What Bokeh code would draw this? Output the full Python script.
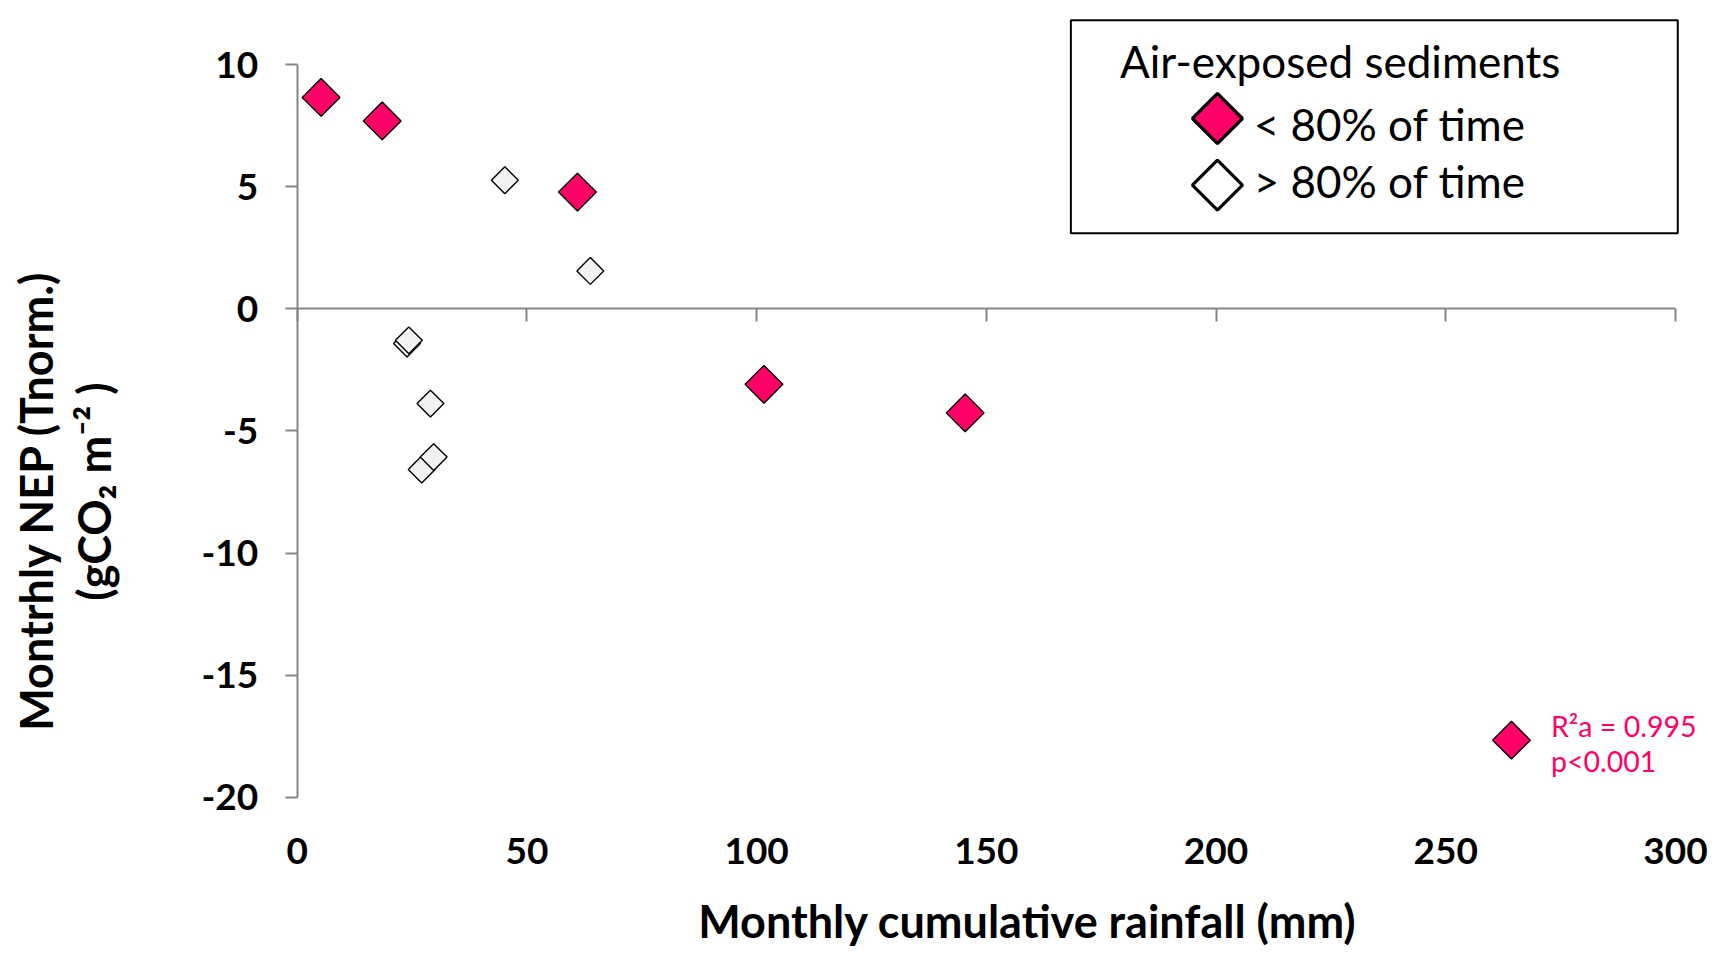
import math

from bokeh.plotting import figure
from bokeh.models import (LinearAxis, FixedTicker, Label, BoxAnnotation,
                          ColumnDataSource, CustomJSTickFormatter, Range1d)
from bokeh.embed import file_html
from bokeh.resources import INLINE

# Monthly cumulative rainfall (mm) vs. temperature-normalised monthly NEP (gCO2 m-2)
# Months with sediments air-exposed < 80% of the time
rain_low = [5.2, 18.5, 61.0, 101.6, 145.4]
nep_low = [8.65, 7.69, 4.78, -3.09, -4.26]
# Months with sediments air-exposed > 80% of the time
rain_high = [45.2, 63.8, 23.9, 24.3, 29.0, 27.1, 29.7]
nep_high = [5.26, 1.55, -1.42, -1.29, -3.88, -6.58, -6.07]

x_ticks = [0, 50, 100, 150, 200, 250, 300]
y_ticks = [-20, -15, -10, -5, 0, 5, 10]

x_title = "Monthly cumulative rainfall (mm)"
y_title = ["Montrhly NEP (Tnorm.)", "(gCO\u2082 m\u207b\u00b2 )"]
legend_title = "Air-exposed sediments"
legend_labels = ["< 80% of time", "> 80% of time"]
fit_text = ["R\u00b2a = 0.995", "p<0.001"]

PINK = "#FF0066"
PALE = "#F2F2F2"
AXIS_GREY = "#868686"
FONT = "Lato"

# The plotting frame fills the whole canvas; axes sit at fixed data positions
p = figure(width=1725, height=953, output_backend="svg", toolbar_location=None,
           x_range=Range1d(-64.58, 310.89), y_range=Range1d(-26.39, 12.62),
           x_axis_location=None, y_axis_location=None,
           min_border_left=0, min_border_right=0, min_border_top=0,
           min_border_bottom=0,
           background_fill_color="white", border_fill_color="white")
p.outline_line_color = None
p.grid.visible = False

plain_numbers = CustomJSTickFormatter(code="return tick.toString()")

# Tick labels of the rainfall axis, under the bottom of the NEP scale
x_labels = LinearAxis(fixed_location=-20, ticker=FixedTicker(ticks=x_ticks),
                      formatter=plain_numbers,
                      axis_line_color=None,
                      major_tick_in=0, major_tick_out=0,
                      minor_tick_in=0, minor_tick_out=0,
                      major_label_text_font=FONT,
                      major_label_text_font_style="bold",
                      major_label_text_font_size="37px",
                      major_label_text_color="black",
                      major_label_standoff=41)
p.add_layout(x_labels, "below")

# Horizontal axis line crossing at NEP = 0
zero_axis = LinearAxis(fixed_location=0, ticker=FixedTicker(ticks=x_ticks),
                       bounds=(0, 300),
                       axis_line_color=AXIS_GREY, axis_line_width=2,
                       major_tick_in=0, major_tick_out=13,
                       major_tick_line_color=AXIS_GREY, major_tick_line_width=2,
                       minor_tick_in=0, minor_tick_out=0,
                       major_label_text_font_size="0px",
                       formatter=CustomJSTickFormatter(code="return ''"))
p.add_layout(zero_axis, "below")

# Vertical axis at zero rainfall
y_axis = LinearAxis(fixed_location=0, ticker=FixedTicker(ticks=y_ticks),
                    formatter=plain_numbers, bounds=(-20, 10),
                    axis_line_color=AXIS_GREY, axis_line_width=2,
                    major_tick_in=0, major_tick_out=12,
                    major_tick_line_color=AXIS_GREY, major_tick_line_width=2,
                    minor_tick_in=0, minor_tick_out=0,
                    major_label_text_font=FONT,
                    major_label_text_font_style="bold",
                    major_label_text_font_size="37px",
                    major_label_text_color="black",
                    major_label_standoff=27)
p.add_layout(y_axis, "left")

# Axis titles
p.add_layout(Label(x=158.96, y=-25.05, text=x_title,
                   text_align="center", text_baseline="alphabetic",
                   text_font=FONT, text_font_style="bold",
                   text_font_size="45px", text_color="black"))
for text, x, y in [(y_title[0], -56.9, -7.85), (y_title[1], -44.3, -7.48)]:
    p.add_layout(Label(x=x, y=y, text=text, angle=math.pi / 2,
                       text_align="center", text_baseline="alphabetic",
                       text_font=FONT, text_font_style="bold",
                       text_font_size="45px", text_color="black"))

# Data points (diamonds = squares turned by 45 degrees)
src_high = ColumnDataSource(dict(x=rain_high, y=nep_high))
src_low = ColumnDataSource(dict(x=rain_low, y=nep_low))
p.scatter("x", "y", source=src_high, marker="square", size=19, angle=math.pi / 4,
          fill_color=PALE, line_color="black", line_width=1.4)
p.scatter("x", "y", source=src_low, marker="square", size=26.7, angle=math.pi / 4,
          fill_color=PINK, line_color="black", line_width=1.4)

# Legend box
p.add_layout(BoxAnnotation(left=168.4, right=300.5, top=11.81, bottom=3.09,
                           fill_color=None, line_color="black", line_width=2,
                           line_alpha=1))
p.add_layout(Label(x=179.1, y=10.16, text=legend_title, text_align="left",
                   text_baseline="alphabetic", text_font=FONT,
                   text_font_size="44px", text_color="black"))
key_y = [7.79, 5.06]
key_fill = [PINK, "white"]
label_y = [7.57, 5.22]
for ky, kf, ly, lab in zip(key_y, key_fill, label_y, legend_labels):
    p.scatter(x=[200.3], y=[ky], marker="square", size=35.4, angle=math.pi / 4,
              fill_color=kf, line_color="black", line_width=3.2)
    p.add_layout(Label(x=208.2, y=ly, text=lab, text_align="left",
                       text_baseline="alphabetic", text_font=FONT,
                       text_font_size="44px", text_color="black"))

# Fit statistics key
p.scatter(x=[264.3], y=[-17.66], marker="square", size=26.7, angle=math.pi / 4,
          fill_color=PINK, line_color="black", line_width=1.4)
for text, y in zip(fit_text, [-17.08, -18.51]):
    p.add_layout(Label(x=272.9, y=y, text=text, text_align="left",
                       text_baseline="alphabetic", text_font=FONT,
                       text_font_size="28.5px", text_color=PINK))

open("out.html", "w").write(file_html(p, INLINE))
